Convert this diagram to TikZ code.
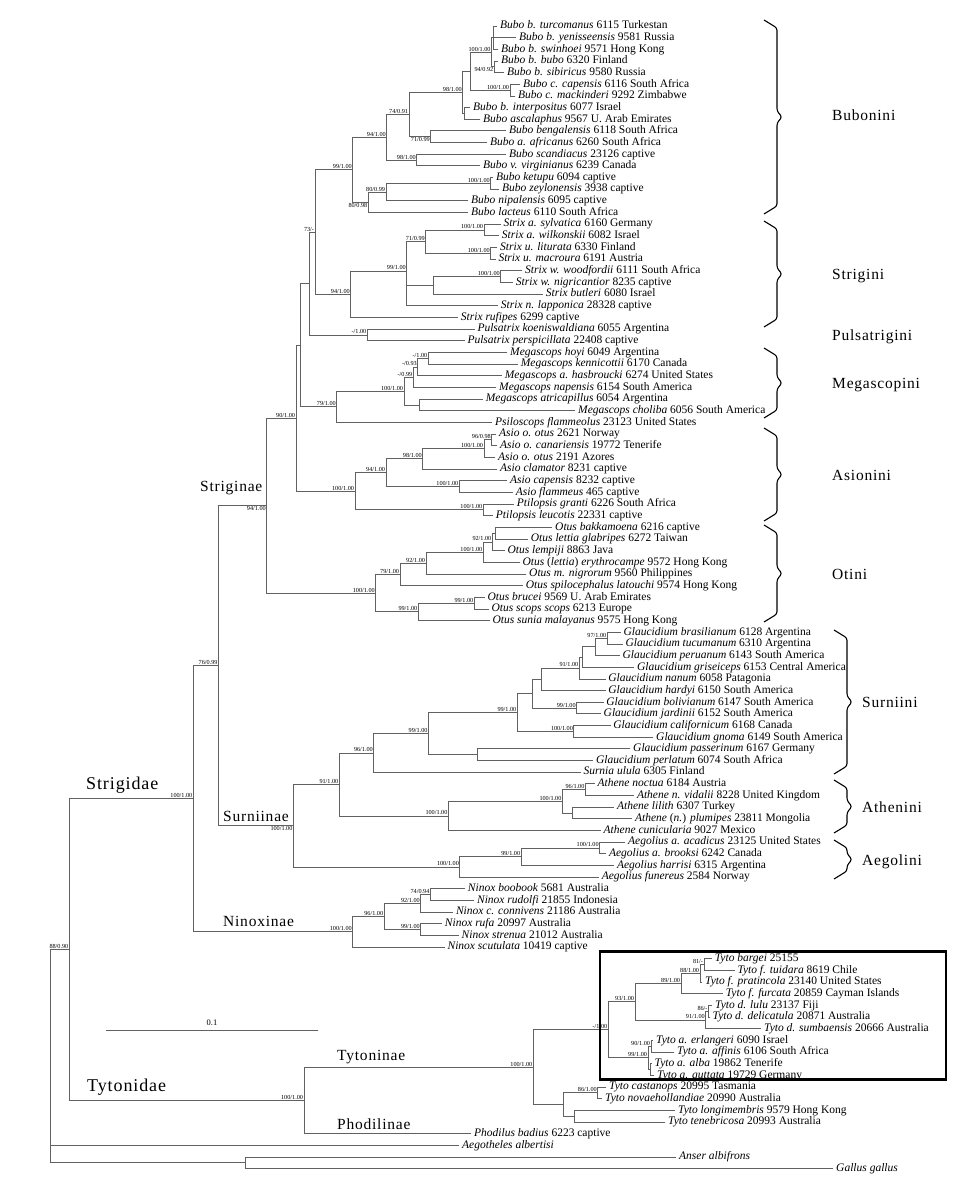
\documentclass[tikz,border=0pt]{standalone}
\usepackage{fontspec}
\setmainfont{Liberation Serif}
\newfontfamily\cladefont[LetterSpace=5]{Liberation Serif}
\newcommand{\tribebrace}[3]{%
  \draw[brc] (#1,#2) -- (#1+13,#2+8) -- (#1+13,{(#2+#3)/2-6}) -- (#1+18,{(#2+#3)/2})
    -- (#1+13,{(#2+#3)/2+6}) -- (#1+13,#3-8) -- (#1,#3);}
\begin{document}
\begin{tikzpicture}[x=1pt,y=-1pt,
  br/.style={line width=0.9pt,line cap=rect,color=black!62},
  leaf/.style={anchor=west,inner xsep=3pt,inner ysep=0pt,text height=8pt,text depth=2.5pt,font=\fontsize{11.5}{13}\selectfont},
  bslab/.style={font=\fontsize{6.2}{7}\selectfont,inner sep=0.8pt},
  bs/.style={label={[bslab]above left:#1}},
  bsb/.style={label={[bslab]below left:#1}},
  tribe/.style={anchor=base west,inner sep=0pt,font=\cladefont\fontsize{15.5}{17}\selectfont},
  family/.style={anchor=base west,inner sep=0pt,font=\cladefont\fontsize{18}{20}\selectfont},
  brc/.style={line width=1.1pt,rounded corners=2.5pt}]
  \useasboundingbox (0,0) rectangle (954,1182);
  \node[leaf] (bub01) at (497,26.00) {\textit{Bubo b. turcomanus} 6115 Turkestan};
  \node[leaf] (bub02) at (516,37.66) {\textit{Bubo b. yenisseensis} 9581 Russia};
  \node[leaf] (bub03) at (498,49.32) {\textit{Bubo b. swinhoei} 9571 Hong Kong};
  \node[leaf] (bub04) at (498,60.98) {\textit{Bubo b. bubo} 6320 Finland};
  \node[leaf] (bub05) at (504,72.64) {\textit{Bubo b. sibiricus} 9580 Russia};
  \node[leaf] (bub06) at (520,84.30) {\textit{Bubo c. capensis} 6116 South Africa};
  \node[leaf] (bub07) at (515,95.96) {\textit{Bubo c. mackinderi} 9292 Zimbabwe};
  \node[leaf] (bub08) at (470,107.62) {\textit{Bubo b. interpositus} 6077 Israel};
  \node[leaf] (bub09) at (480,119.28) {\textit{Bubo ascalaphus} 9567 U. Arab Emirates};
  \node[leaf] (bub10) at (506,130.94) {\textit{Bubo bengalensis} 6118 South Africa};
  \node[leaf] (bub11) at (487,142.60) {\textit{Bubo a. africanus} 6260 South Africa};
  \node[leaf] (bub12) at (506,154.26) {\textit{Bubo scandiacus} 23126 captive};
  \node[leaf] (bub13) at (480,165.92) {\textit{Bubo v. virginianus} 6239 Canada};
  \node[leaf] (bub14) at (493,177.58) {\textit{Bubo ketupu} 6094 captive};
  \node[leaf] (bub15) at (499,189.24) {\textit{Bubo zeylonensis} 3938 captive};
  \node[leaf] (bub16) at (468,200.90) {\textit{Bubo nipalensis} 6095 captive};
  \node[leaf] (bub17) at (468,212.56) {\textit{Bubo lacteus} 6110 South Africa};
  \node[leaf] (str01) at (500.3,224.22) {\textit{Strix a. sylvatica} 6160 Germany};
  \node[leaf] (str02) at (498.7,235.88) {\textit{Strix a. wilkonskii} 6082 Israel};
  \node[leaf] (str03) at (497,247.54) {\textit{Strix u. liturata} 6330 Finland};
  \node[leaf] (str04) at (495.3,259.20) {\textit{Strix u. macroura} 6191 Austria};
  \node[leaf] (str05) at (522,270.86) {\textit{Strix w. woodfordii} 6111 South Africa};
  \node[leaf] (str06) at (512.7,282.52) {\textit{Strix w. nigricantior} 8235 captive};
  \node[leaf] (str07) at (542.7,294.18) {\textit{Strix butleri} 6080 Israel};
  \node[leaf] (str08) at (497.7,305.84) {\textit{Strix n. lapponica} 28328 captive};
  \node[leaf] (str09) at (457.7,317.50) {\textit{Strix rufipes} 6299 captive};
  \node[leaf] (pul01) at (474.3,329.16) {\textit{Pulsatrix koeniswaldiana} 6055 Argentina};
  \node[leaf] (pul02) at (464.3,340.82) {\textit{Pulsatrix perspicillata} 22408 captive};
  \node[leaf] (meg01) at (507,352.48) {\textit{Megascops hoyi} 6049 Argentina};
  \node[leaf] (meg02) at (517.7,364.14) {\textit{Megascops kennicottii} 6170 Canada};
  \node[leaf] (meg03) at (501.7,375.80) {\textit{Megascops a. hasbroucki} 6274 United States};
  \node[leaf] (meg04) at (496,387.46) {\textit{Megascops napensis} 6154 South America};
  \node[leaf] (meg05) at (482.7,399.12) {\textit{Megascops atricapillus} 6054 Argentina};
  \node[leaf] (meg06) at (575,410.78) {\textit{Megascops choliba} 6056 South America};
  \node[leaf] (meg07) at (492,422.44) {\textit{Psiloscops flammeolus} 23123 United States};
  \node[leaf] (asi01) at (496,434.10) {\textit{Asio o. otus} 2621 Norway};
  \node[leaf] (asi02) at (497,445.76) {\textit{Asio o. canariensis} 19772 Tenerife};
  \node[leaf] (asi03) at (495,457.42) {\textit{Asio o. otus} 2191 Azores};
  \node[leaf] (asi04) at (497,469.08) {\textit{Asio clamator} 8231 captive};
  \node[leaf] (asi05) at (507,480.74) {\textit{Asio capensis} 8232 captive};
  \node[leaf] (asi06) at (512.7,492.40) {\textit{Asio flammeus} 465 captive};
  \node[leaf] (asi07) at (513.7,504.06) {\textit{Ptilopsis granti} 6226 South Africa};
  \node[leaf] (asi08) at (492.7,515.72) {\textit{Ptilopsis leucotis} 22331 captive};
  \node[leaf] (oti01) at (552,527.38) {\textit{Otus bakkamoena} 6216 captive};
  \node[leaf] (oti02) at (527.7,539.04) {\textit{Otus lettia glabripes} 6272 Taiwan};
  \node[leaf] (oti03) at (504.3,550.70) {\textit{Otus lempiji} 8863 Java};
  \node[leaf] (oti04) at (519.3,562.36) {\textit{Otus} (\textit{lettia}) \textit{erythrocampe} 9572 Hong Kong};
  \node[leaf] (oti05) at (526,574.02) {\textit{Otus m. nigrorum} 9560 Philippines};
  \node[leaf] (oti06) at (522.7,585.68) {\textit{Otus spilocephalus latouchi} 9574 Hong Kong};
  \node[leaf] (oti07) at (484.3,597.34) {\textit{Otus brucei} 9569 U. Arab Emirates};
  \node[leaf] (oti08) at (488.3,609.00) {\textit{Otus scops scops} 6213 Europe};
  \node[leaf] (oti09) at (489.3,620.66) {\textit{Otus sunia malayanus} 9575 Hong Kong};
  \node[leaf] (gla01) at (620.4,632.32) {\textit{Glaucidium brasilianum} 6128 Argentina};
  \node[leaf] (gla02) at (622.3,643.98) {\textit{Glaucidium tucumanum} 6310 Argentina};
  \node[leaf] (gla03) at (619.3,655.64) {\textit{Glaucidium peruanum} 6143 South America};
  \node[leaf] (gla04) at (633.8,667.30) {\textit{Glaucidium griseiceps} 6153 Central America};
  \node[leaf] (gla05) at (605.1,678.96) {\textit{Glaucidium nanum} 6058 Patagonia};
  \node[leaf] (gla06) at (605.1,690.62) {\textit{Glaucidium hardyi} 6150 South America};
  \node[leaf] (gla07) at (603.2,702.28) {\textit{Glaucidium bolivianum} 6147 South America};
  \node[leaf] (gla08) at (600.5,713.94) {\textit{Glaucidium jardinii} 6152 South America};
  \node[leaf] (gla09) at (610.1,725.60) {\textit{Glaucidium californicum} 6168 Canada};
  \node[leaf] (gla10) at (653,737.26) {\textit{Glaucidium gnoma} 6149 South America};
  \node[leaf] (gla11) at (630,748.92) {\textit{Glaucidium passerinum} 6167 Germany};
  \node[leaf] (gla12) at (592.9,760.58) {\textit{Glaucidium perlatum} 6074 South Africa};
  \node[leaf] (gla13) at (580.3,772.24) {\textit{Surnia ulula} 6305 Finland};
  \node[leaf] (ath01) at (594.4,783.90) {\textit{Athene noctua} 6184 Austria};
  \node[leaf] (ath02) at (633.8,795.56) {\textit{Athene n. vidalii} 8228 United Kingdom};
  \node[leaf] (ath03) at (613.9,807.22) {\textit{Athene lilith} 6307 Turkey};
  \node[leaf] (ath04) at (631.9,818.88) {\textit{Athene} (\textit{n.}) \textit{plumipes} 23811 Mongolia};
  \node[leaf] (ath05) at (600.5,830.54) {\textit{Athene cunicularia} 9027 Mexico};
  \node[leaf] (aeg01) at (625,842.20) {\textit{Aegolius a. acadicus} 23125 United States};
  \node[leaf] (aeg02) at (605.9,853.86) {\textit{Aegolius a. brooksi} 6242 Canada};
  \node[leaf] (aeg03) at (613.9,865.52) {\textit{Aegolius harrisi} 6315 Argentina};
  \node[leaf] (aeg04) at (598.6,877.18) {\textit{Aegolius funereus} 2584 Norway};
  \node[leaf] (nin01) at (464.7,888.84) {\textit{Ninox boobook} 5681 Australia};
  \node[leaf] (nin02) at (473.9,900.50) {\textit{Ninox rudolfi} 21855 Indonesia};
  \node[leaf] (nin03) at (452.8,912.16) {\textit{Ninox c. connivens} 21186 Australia};
  \node[leaf] (nin04) at (441.7,923.82) {\textit{Ninox rufa} 20997 Australia};
  \node[leaf] (nin05) at (458.5,935.48) {\textit{Ninox strenua} 21012 Australia};
  \node[leaf] (nin06) at (444.4,947.14) {\textit{Ninox scutulata} 10419 captive};
  \node[leaf] (tyt01) at (711.7,958.80) {\textit{Tyto bargei} 25155};
  \node[leaf] (tyt02) at (734.3,970.46) {\textit{Tyto f. tuidara} 8619 Chile};
  \node[leaf] (tyt03) at (702,982.12) {\textit{Tyto f. pratincola} 23140 United States};
  \node[leaf] (tyt04) at (722.7,993.78) {\textit{Tyto f. furcata} 20859 Cayman Islands};
  \node[leaf] (tyt05) at (712,1005.44) {\textit{Tyto d. lulu} 23137 Fiji};
  \node[leaf] (tyt06) at (709.5,1017.10) {\textit{Tyto d. delicatula} 20871 Australia};
  \node[leaf] (tyt07) at (761,1028.76) {\textit{Tyto d. sumbaensis} 20666 Australia};
  \node[leaf] (tyt08) at (653,1040.42) {\textit{Tyto a. erlangeri} 6090 Israel};
  \node[leaf] (tyt09) at (674,1052.08) {\textit{Tyto a. affinis} 6106 South Africa};
  \node[leaf] (tyt10) at (651.5,1063.74) {\textit{Tyto a. alba} 19862 Tenerife};
  \node[leaf] (tyt11) at (654,1075.40) {\textit{Tyto a. guttata} 19729 Germany};
  \node[leaf] (tyt12) at (606,1087.06) {\textit{Tyto castanops} 20995 Tasmania};
  \node[leaf] (tyt13) at (602,1098.72) {\textit{Tyto novaehollandiae} 20990 Australia};
  \node[leaf] (tyt14) at (675,1110.38) {\textit{Tyto longimembris} 9579 Hong Kong};
  \node[leaf] (tyt15) at (665,1122.04) {\textit{Tyto tenebricosa} 20993 Australia};
  \node[leaf] (pho01) at (471,1133.70) {\textit{Phodilus badius} 6223 captive};
  \node[leaf] (out01) at (459,1145.36) {\textit{Aegotheles albertisi}};
  \node[leaf] (out02) at (676,1157.02) {\textit{Anser albifrons}};
  \node[leaf] (out03) at (833,1168.68) {\textit{Gallus gallus}};
  \coordinate (b1) at (493.3,37.66);
  \coordinate[bsb=94/0.92] (b2) at (494.3,66.81);
  \coordinate[bs=100/1.00] (b3) at (491.5,52.2);
  \coordinate[bs=100/1.00] (b4) at (510,90.13);
  \coordinate (b5) at (470,71.2);
  \coordinate (b6) at (464.3,113.45);
  \coordinate[bs=98/1.00] (b7) at (462.7,92.3);
  \coordinate[bsb=71/0.99] (b8) at (430.7,136.77);
  \coordinate[bs=74/0.91] (b9) at (409,114.5);
  \coordinate[bs=98/1.00] (b10) at (416.7,160.09);
  \coordinate[bs=94/1.00] (b11) at (386.7,137.3);
  \coordinate[bs=100/1.00] (b12) at (490.7,183.41);
  \coordinate[bs=80/0.99] (b13) at (386,192.15);
  \coordinate[bsb=80/0.98] (b14) at (368.3,202.38);
  \coordinate[bs=99/1.00] (b15) at (352.7,169.85);
  \coordinate[bs=100/1.00] (s1) at (484,230.05);
  \coordinate[bs=100/1.00] (s2) at (490.7,253.37);
  \coordinate[bs=71/0.99] (s3) at (425.7,241.7);
  \coordinate[bs=100/1.00] (s4) at (500.7,276.69);
  \coordinate (s5) at (433.3,285.4);
  \coordinate[bs=99/1.00] (s6) at (406.7,271);
  \coordinate[bs=94/1.00] (s7) at (350.7,294.3);
  \coordinate[bs=73/-] (k1) at (315,232.1);
  \coordinate[bs=-/1.00] (p1) at (367.3,334.99);
  \coordinate (k2) at (309.3,283.55);
  \coordinate[bs=-/1.00] (m1) at (428.3,358.31);
  \coordinate[bs=-/0.93] (m2) at (417.7,367.06);
  \coordinate[bs=-/0.99] (m3) at (413.3,377.26);
  \coordinate (m4) at (419.3,404.95);
  \coordinate[bs=100/1.00] (m5) at (404,391.1);
  \coordinate[bs=79/1.00] (m6) at (336.7,406.77);
  \coordinate (k3) at (300,345.2);
  \coordinate[bs=96/0.98] (a1) at (491.7,439.93);
  \coordinate[bs=100/1.00] (a2) at (484,448.68);
  \coordinate[bs=98/1.00] (a3) at (422.7,458.89);
  \coordinate[bs=100/1.00] (a4) at (459.3,486.57);
  \coordinate[bs=94/1.00] (a5) at (386,472.7);
  \coordinate[bs=100/1.00] (a6) at (483.3,509.89);
  \coordinate[bs=100/1.00] (a7) at (355,491.3);
  \coordinate[bs=90/1.00] (k4) at (296,418.25);
  \coordinate (o1) at (495,533.21);
  \coordinate[bs=92/1.00] (o2) at (492.3,541.96);
  \coordinate[bs=100/1.00] (o3) at (483.3,552.16);
  \coordinate[bs=92/1.00] (o4) at (426,563.09);
  \coordinate[bs=79/1.00] (o5) at (400,574.39);
  \coordinate[bs=99/1.00] (o6) at (474.3,603.17);
  \coordinate[bs=99/1.00] (o7) at (418.3,611.9);
  \coordinate[bs=100/1.00] (o8) at (375.7,593.15);
  \coordinate[bsb=94/1.00] (k5) at (266.7,505.7);
  \coordinate[bs=97/1.00] (g1) at (607.2,638.15);
  \coordinate (g2) at (595,646.9);
  \coordinate (g3) at (582.3,657.1);
  \coordinate[bs=91/1.00] (g4) at (579.3,668.03);
  \coordinate (g5) at (541.4,679.31);
  \coordinate[bs=99/1.00] (g6) at (576.6,708.11);
  \coordinate (g7) at (532.6,693.7);
  \coordinate[bs=99/1.00] (g8) at (517.3,712.57);
  \coordinate[bs=100/1.00] (g9) at (573.9,731.43);
  \coordinate (g10) at (477.1,754.75);
  \coordinate[bs=99/1.00] (g11) at (428.5,733.68);
  \coordinate[bs=96/1.00] (g12) at (373.8,752.97);
  \coordinate[bs=96/1.00] (at1) at (585.4,789.73);
  \coordinate (at2) at (572.8,813.05);
  \coordinate[bs=100/1.00] (at3) at (562.4,801.39);
  \coordinate[bs=100/1.00] (at4) at (448.4,815.97);
  \coordinate[bs=91/1.00] (k6) at (339.3,784.47);
  \coordinate[bs=100/1.00] (ae1) at (599.6,848.03);
  \coordinate[bs=99/1.00] (ae2) at (521.1,856.78);
  \coordinate[bs=100/1.00] (ae3) at (459.9,866.98);
  \coordinate[bsb=100/1.00] (k7) at (293.4,825.73);
  \coordinate[bs=76/0.99] (k8) at (218.5,665.7);
  \coordinate[bs=74/0.94] (n1) at (430.4,894.67);
  \coordinate[bs=92/1.00] (n2) at (420.8,903.42);
  \coordinate[bs=99/1.00] (n3) at (420.8,929.65);
  \coordinate[bs=96/1.00] (n4) at (384.1,916.5);
  \coordinate[bs=100/1.00] (n5) at (352.7,931.8);
  \coordinate[bs=100/1.00] (k9) at (193.3,798.75);
  \coordinate[bs=81/-] (t1) at (704,964.63);
  \coordinate[bs=88/1.00] (t2) at (700,973.38);
  \coordinate[bs=89/1.00] (t3) at (681,983.59);
  \coordinate[bs=86/-] (t4) at (708.5,1011.27);
  \coordinate[bs=91/1.00] (t5) at (705.7,1020.0);
  \coordinate[bs=93/1.00] (t6) at (635,1001.8);
  \coordinate[bs=90/1.00] (t7) at (651,1046.25);
  \coordinate (t8) at (650.5,1069.57);
  \coordinate[bs=99/1.00] (t9) at (648,1057.91);
  \coordinate[bs=-/1.00] (t10) at (608.3,1029.85);
  \coordinate[bs=86/1.00] (c1) at (597.7,1092.89);
  \coordinate (c2) at (574,1116.21);
  \coordinate (c3) at (563.3,1104.55);
  \coordinate[bs=100/1.00] (k10) at (533.3,1067.2);
  \coordinate[bs=100/1.00] (k11) at (304,1100.45);
  \coordinate[bs=88/0.90] (k12) at (69.3,949.6);
  \coordinate (og) at (245.7,1162.85);
  \coordinate (root) at (50,1056);
  \draw[br] (b1) |- (bub01) (b1) |- (bub02) (b1) |- (bub03);
  \draw[br] (b2) |- (bub04) (b2) |- (bub05);
  \draw[br] (b3) |- (b1) (b3) |- (b2);
  \draw[br] (b4) |- (bub06) (b4) |- (bub07);
  \draw[br] (b5) |- (b3) (b5) |- (b4);
  \draw[br] (b6) |- (bub08) (b6) |- (bub09);
  \draw[br] (b7) |- (b5) (b7) |- (b6);
  \draw[br] (b8) |- (bub10) (b8) |- (bub11);
  \draw[br] (b9) |- (b7) (b9) |- (b8);
  \draw[br] (b10) |- (bub12) (b10) |- (bub13);
  \draw[br] (b11) |- (b9) (b11) |- (b10);
  \draw[br] (b12) |- (bub14) (b12) |- (bub15);
  \draw[br] (b13) |- (b12) (b13) |- (bub16);
  \draw[br] (b14) |- (b13) (b14) |- (bub17);
  \draw[br] (b15) |- (b11) (b15) |- (b14);
  \draw[br] (s1) |- (str01) (s1) |- (str02);
  \draw[br] (s2) |- (str03) (s2) |- (str04);
  \draw[br] (s3) |- (s1) (s3) |- (s2);
  \draw[br] (s4) |- (str05) (s4) |- (str06);
  \draw[br] (s5) |- (s4) (s5) |- (str07);
  \draw[br] (s6) |- (s3) (s6) |- (s5) (s6) |- (str08);
  \draw[br] (s7) |- (s6) (s7) |- (str09);
  \draw[br] (k1) |- (b15) (k1) |- (s7);
  \draw[br] (p1) |- (pul01) (p1) |- (pul02);
  \draw[br] (k2) |- (k1) (k2) |- (p1);
  \draw[br] (m1) |- (meg01) (m1) |- (meg02);
  \draw[br] (m2) |- (m1) (m2) |- (meg03);
  \draw[br] (m3) |- (m2) (m3) |- (meg04);
  \draw[br] (m4) |- (meg05) (m4) |- (meg06);
  \draw[br] (m5) |- (m3) (m5) |- (m4);
  \draw[br] (m6) |- (m5) (m6) |- (meg07);
  \draw[br] (k3) |- (k2) (k3) |- (m6);
  \draw[br] (a1) |- (asi01) (a1) |- (asi02);
  \draw[br] (a2) |- (a1) (a2) |- (asi03);
  \draw[br] (a3) |- (a2) (a3) |- (asi04);
  \draw[br] (a4) |- (asi05) (a4) |- (asi06);
  \draw[br] (a5) |- (a3) (a5) |- (a4);
  \draw[br] (a6) |- (asi07) (a6) |- (asi08);
  \draw[br] (a7) |- (a5) (a7) |- (a6);
  \draw[br] (k4) |- (k3) (k4) |- (a7);
  \draw[br] (o1) |- (oti01) (o1) |- (oti02);
  \draw[br] (o2) |- (o1) (o2) |- (oti03);
  \draw[br] (o3) |- (o2) (o3) |- (oti04);
  \draw[br] (o4) |- (o3) (o4) |- (oti05);
  \draw[br] (o5) |- (o4) (o5) |- (oti06);
  \draw[br] (o6) |- (oti07) (o6) |- (oti08);
  \draw[br] (o7) |- (o6) (o7) |- (oti09);
  \draw[br] (o8) |- (o5) (o8) |- (o7);
  \draw[br] (k5) |- (k4) (k5) |- (o8);
  \draw[br] (g1) |- (gla01) (g1) |- (gla02);
  \draw[br] (g2) |- (g1) (g2) |- (gla03);
  \draw[br] (g3) |- (g2) (g3) |- (gla04);
  \draw[br] (g4) |- (g3) (g4) |- (gla05);
  \draw[br] (g5) |- (g4) (g5) |- (gla06);
  \draw[br] (g6) |- (gla07) (g6) |- (gla08);
  \draw[br] (g7) |- (g5) (g7) |- (g6);
  \draw[br] (g9) |- (gla09) (g9) |- (gla10);
  \draw[br] (g8) |- (g7) (g8) |- (g9);
  \draw[br] (g10) |- (gla11) (g10) |- (gla12);
  \draw[br] (g11) |- (g8) (g11) |- (g10);
  \draw[br] (g12) |- (g11) (g12) |- (gla13);
  \draw[br] (at1) |- (ath01) (at1) |- (ath02);
  \draw[br] (at2) |- (ath03) (at2) |- (ath04);
  \draw[br] (at3) |- (at1) (at3) |- (at2);
  \draw[br] (at4) |- (at3) (at4) |- (ath05);
  \draw[br] (k6) |- (g12) (k6) |- (at4);
  \draw[br] (ae1) |- (aeg01) (ae1) |- (aeg02);
  \draw[br] (ae2) |- (ae1) (ae2) |- (aeg03);
  \draw[br] (ae3) |- (ae2) (ae3) |- (aeg04);
  \draw[br] (k7) |- (k6) (k7) |- (ae3);
  \draw[br] (k8) |- (k5) (k8) |- (k7);
  \draw[br] (n1) |- (nin01) (n1) |- (nin02);
  \draw[br] (n2) |- (n1) (n2) |- (nin03);
  \draw[br] (n3) |- (nin04) (n3) |- (nin05);
  \draw[br] (n4) |- (n2) (n4) |- (n3);
  \draw[br] (n5) |- (n4) (n5) |- (nin06);
  \draw[br] (k9) |- (k8) (k9) |- (n5);
  \draw[br] (t1) |- (tyt01) (t1) |- (tyt02);
  \draw[br] (t2) |- (t1) (t2) |- (tyt03);
  \draw[br] (t3) |- (t2) (t3) |- (tyt04);
  \draw[br] (t4) |- (tyt05) (t4) |- (tyt06);
  \draw[br] (t5) |- (t4) (t5) |- (tyt07);
  \draw[br] (t6) |- (t3) (t6) |- (t5);
  \draw[br] (t7) |- (tyt08) (t7) |- (tyt09);
  \draw[br] (t8) |- (tyt10) (t8) |- (tyt11);
  \draw[br] (t9) |- (t7) (t9) |- (t8);
  \draw[br] (t10) |- (t6) (t10) |- (t9);
  \draw[br] (c1) |- (tyt12) (c1) |- (tyt13);
  \draw[br] (c2) |- (tyt14) (c2) |- (tyt15);
  \draw[br] (c3) |- (c1) (c3) |- (c2);
  \draw[br] (k10) |- (t10) (k10) |- (c3);
  \draw[br] (k11) |- (k10) (k11) |- (pho01);
  \draw[br] (k12) |- (k9) (k12) |- (k11);
  \draw[br] (og) |- (out02) (og) |- (out03);
  \draw[br] (root) |- (k12) (root) |- (out01) (root) |- (og);
  \draw[line width=2.4pt] (600,951.5) rectangle (946,1079.5);
  \coordinate (sb0) at (106,1030);
  \coordinate (sb1) at (318,1030);
  \draw[br] (sb0) -- (sb1) node[midway,above=1pt,text=black,font=\fontsize{8.5}{10}\selectfont] (sblab) {0.1};
  \node[family] (lstrigidae) at (86,789) {Strigidae};
  \node[family] (ltytonidae) at (87,1091.5) {Tytonidae};
  \node[tribe] (lstriginae) at (200,491) {Striginae};
  \node[tribe] (lsurniinae) at (223,821) {Surniinae};
  \node[tribe] (lninoxinae) at (223,926) {Ninoxinae};
  \node[tribe] (ltytoninae) at (337,1060) {Tytoninae};
  \node[tribe] (lphodilinae) at (337,1129) {Phodilinae};
  \node[tribe] (lbubonini) at (832,121) {Bubonini};
  \node[tribe] (lstrigini) at (832,279) {Strigini};
  \node[tribe] (lpulsatrigini) at (832,340) {Pulsatrigini};
  \node[tribe] (lmegascopini) at (832,388) {Megascopini};
  \node[tribe] (lasionini) at (832,480) {Asionini};
  \node[tribe] (lotini) at (832,579) {Otini};
  \node[tribe] (lsurniini) at (862,707) {Surniini};
  \node[tribe] (lathenini) at (862,812) {Athenini};
  \node[tribe] (laegolini) at (862,865) {Aegolini};
  \tribebrace{764}{20}{214}
  \tribebrace{764}{221}{327}
  \tribebrace{764}{348}{418}
  \tribebrace{764}{428}{521}
  \tribebrace{764}{525}{622}
  \tribebrace{834}{630}{774}
  \tribebrace{834}{780}{833}
  \tribebrace{834}{840}{879}
\end{tikzpicture}
\end{document}
